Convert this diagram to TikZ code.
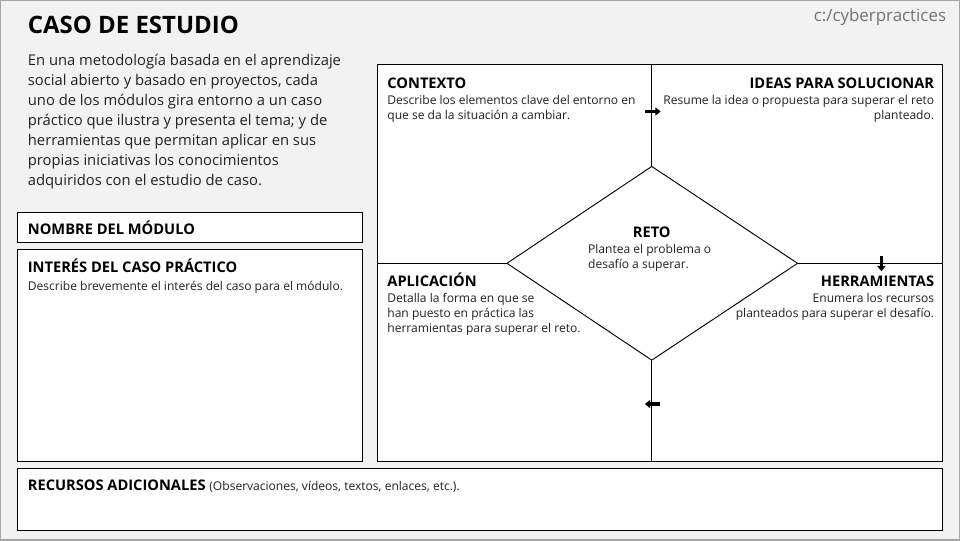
\documentclass[tikz,border=0pt]{standalone}
\usepackage{fontspec}
\setmainfont{Open Sans}
\usetikzlibrary{arrows.meta}
\definecolor{bg}{HTML}{F2F2F2}
\definecolor{txt}{HTML}{222222}
\begin{document}
\begin{tikzpicture}[x=0.75pt,y=-0.75pt,
  box/.style={draw=black,fill=white,line width=0.6pt},
  hd/.style={font=\fontsize{11}{13}\selectfont\bfseries,text=black,inner sep=0pt},
  ds/.style={font=\fontsize{9.05}{11.2}\selectfont,text=txt,inner sep=0pt},
  ln/.style={line width=0.7pt},
  sa/.style={-{Triangle[length=4pt,width=6pt]},line width=2.6pt}]
\path[use as bounding box,fill=bg,draw=gray!70,line width=1pt] (0,0) rectangle (960,540);
\node[anchor=base west,inner sep=0pt,font=\fontsize{18}{20}\selectfont\bfseries] (title) at (27,33) {CASO DE ESTUDIO};
\node[anchor=base east,inner sep=0pt,font=\fontsize{12.7}{14}\selectfont,text=gray!90!black] (logo) at (947,21) {c:/cyberpractices};
\node[anchor=north west,inner sep=0pt,align=left,font=\fontsize{11.1}{15}\selectfont,text=txt] (intro) at (27,53) {En una metodología basada en el aprendizaje\\social abierto y basado en proyectos, cada\\uno de los módulos gira entorno a un caso\\práctico que ilustra y presenta el tema; y de\\herramientas que permitan aplicar en sus\\propias iniciativas los conocimientos\\adquiridos con el estudio de caso.};
\draw[box] (17,212) rectangle (362,242);
\node[hd,anchor=west] (nom) at (27,227) {NOMBRE DEL MÓDULO};
\draw[box] (17,249) rectangle (362,461);
\node[hd,anchor=base west] (int) at (27,272) {INTERÉS DEL CASO PRÁCTICO};
\node[ds,anchor=base west] (intd) at (27,290) {Describe brevemente el interés del caso para el módulo.};
\draw[box] (17,468) rectangle (943,530);
\node[anchor=base west,inner sep=0pt] (rec) at (27,491) {\fontsize{11}{13}\selectfont\bfseries RECURSOS ADICIONALES \fontsize{9.05}{11}\selectfont\mdseries\color{txt}(Observaciones, vídeos, textos, enlaces, etc.).};
\draw[box] (377,64) rectangle (943,461);
\coordinate (T) at (652,166); \coordinate (R) at (798,263);
\coordinate (B) at (652,360); \coordinate (L) at (507,263);
\draw[ln] (T) -- (R) -- (B) -- (L) -- cycle;
\draw[ln] (652,64) -- (T); \draw[ln] (B) -- (652,461);
\draw[ln] (377,263) -- (L); \draw[ln] (R) -- (943,263);
\draw[sa] (645,111) -- (661,111);
\draw[sa] (882,256) -- (882,271);
\draw[sa] (660,404) -- (645,404);
\node[hd,anchor=base west] (ctx) at (387,88) {CONTEXTO};
\node[ds,anchor=north west,align=left] (ctxd) at (387,95) {Describe los elementos clave del entorno en\\que se da la situación a cambiar.};
\node[hd,anchor=base east] (ide) at (935,88) {IDEAS PARA SOLUCIONAR};
\node[ds,anchor=north east,align=right] (ided) at (935,95) {Resume la idea o propuesta para superar el reto\\planteado.};
\node[hd,anchor=base] (reto) at (652,237) {RETO};
\node[ds,anchor=north west,align=left] (retod) at (588,244) {Plantea el problema o\\desafío a superar.};
\node[hd,anchor=base west] (apl) at (387,286) {APLICACIÓN};
\node[ds,anchor=north west,align=left] (apld) at (387,293) {Detalla la forma en que se\\han puesto en práctica las\\herramientas para superar el reto.};
\node[hd,anchor=base east] (her) at (935,286) {HERRAMIENTAS};
\node[ds,anchor=north east,align=right] (herd) at (935,293) {Enumera los recursos\\planteados para superar el desafío.};
\end{tikzpicture}
\end{document}
